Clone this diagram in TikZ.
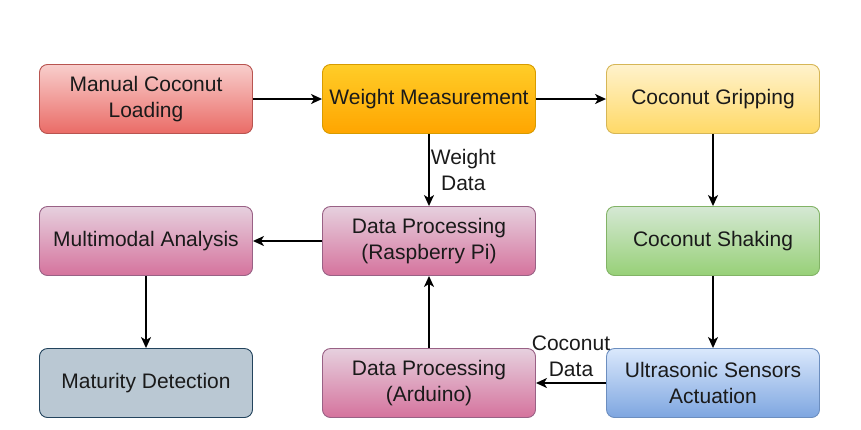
\documentclass[tikz,border=0pt]{standalone}
\usepackage{fontspec}
\setmainfont{Liberation Sans}
\usetikzlibrary{arrows.meta}
\definecolor{redT}{HTML}{F8CECC}\definecolor{redB}{HTML}{EA6B66}\definecolor{redS}{HTML}{B85450}
\definecolor{orT}{HTML}{FFCD28}\definecolor{orB}{HTML}{FFA500}\definecolor{orS}{HTML}{D79B00}
\definecolor{yeT}{HTML}{FFF2CC}\definecolor{yeB}{HTML}{FFD966}\definecolor{yeS}{HTML}{D6B656}
\definecolor{grT}{HTML}{D5E8D4}\definecolor{grB}{HTML}{97D077}\definecolor{grS}{HTML}{82B366}
\definecolor{piT}{HTML}{E6D0DE}\definecolor{piB}{HTML}{D5739D}\definecolor{piS}{HTML}{996185}
\definecolor{blT}{HTML}{DAE8FC}\definecolor{blB}{HTML}{7EA6E0}\definecolor{blS}{HTML}{6C8EBF}
\definecolor{gyF}{HTML}{BAC8D3}\definecolor{gyS}{HTML}{23445D}
\definecolor{txt}{HTML}{1A1A1A}
\tikzset{
  box/.style={rectangle, rounded corners=8pt, minimum width=213pt, minimum height=69pt,
    align=center, inner sep=2pt, line width=0.9pt, text=txt,
    font=\fontsize{21}{26}\selectfont},
  redbox/.style={box, draw=redS, top color=redT, bottom color=redB},
  orbox/.style={box, draw=orS, top color=orT, bottom color=orB},
  yebox/.style={box, draw=yeS, top color=yeT, bottom color=yeB},
  grbox/.style={box, draw=grS, top color=grT, bottom color=grB},
  pibox/.style={box, draw=piS, top color=piT, bottom color=piB},
  blbox/.style={box, draw=blS, top color=blT, bottom color=blB},
  gybox/.style={box, draw=gyS, fill=gyF},
  conn/.style={-{Stealth[length=11pt,width=10pt,inset=3pt]}, line width=1.6pt},
  lbl/.style={font=\fontsize{21}{26}\selectfont, align=center, inner sep=0pt, text=txt}
}
\begin{document}
\begin{tikzpicture}[x=1pt,y=-1pt]
\useasboundingbox (0,0) rectangle (861,429);
\node[redbox] (manual) at (146,99) {Manual Coconut\\Loading};
\node[orbox] (weight) at (429,99) {Weight Measurement};
\node[yebox] (grip) at (713,99) {Coconut Gripping};
\node[pibox] (multi) at (146,241) {Multimodal Analysis};
\node[pibox] (rpi) at (429,241) {Data Processing\\(Raspberry Pi)};
\node[grbox] (shake) at (713,241) {Coconut Shaking};
\node[gybox] (mat) at (146,383) {Maturity Detection};
\node[pibox] (ard) at (429,383) {Data Processing\\(Arduino)};
\node[blbox] (ultra) at (713,383) {Ultrasonic Sensors\\Actuation};
\draw[conn] (manual) -- (weight);
\draw[conn] (weight) -- (grip);
\draw[conn] (grip) -- (shake);
\draw[conn] (shake) -- (ultra);
\draw[conn] (ultra) -- (ard);
\draw[conn] (ard) -- (rpi);
\draw[conn] (rpi) -- (multi);
\draw[conn] (multi) -- (mat);
\draw[conn] (weight) -- node[lbl, anchor=west, xshift=1pt] (wd) {Weight\\Data} (rpi);
\node[lbl] (cd) at (571,356) {Coconut\\Data};
\end{tikzpicture}
\end{document}
